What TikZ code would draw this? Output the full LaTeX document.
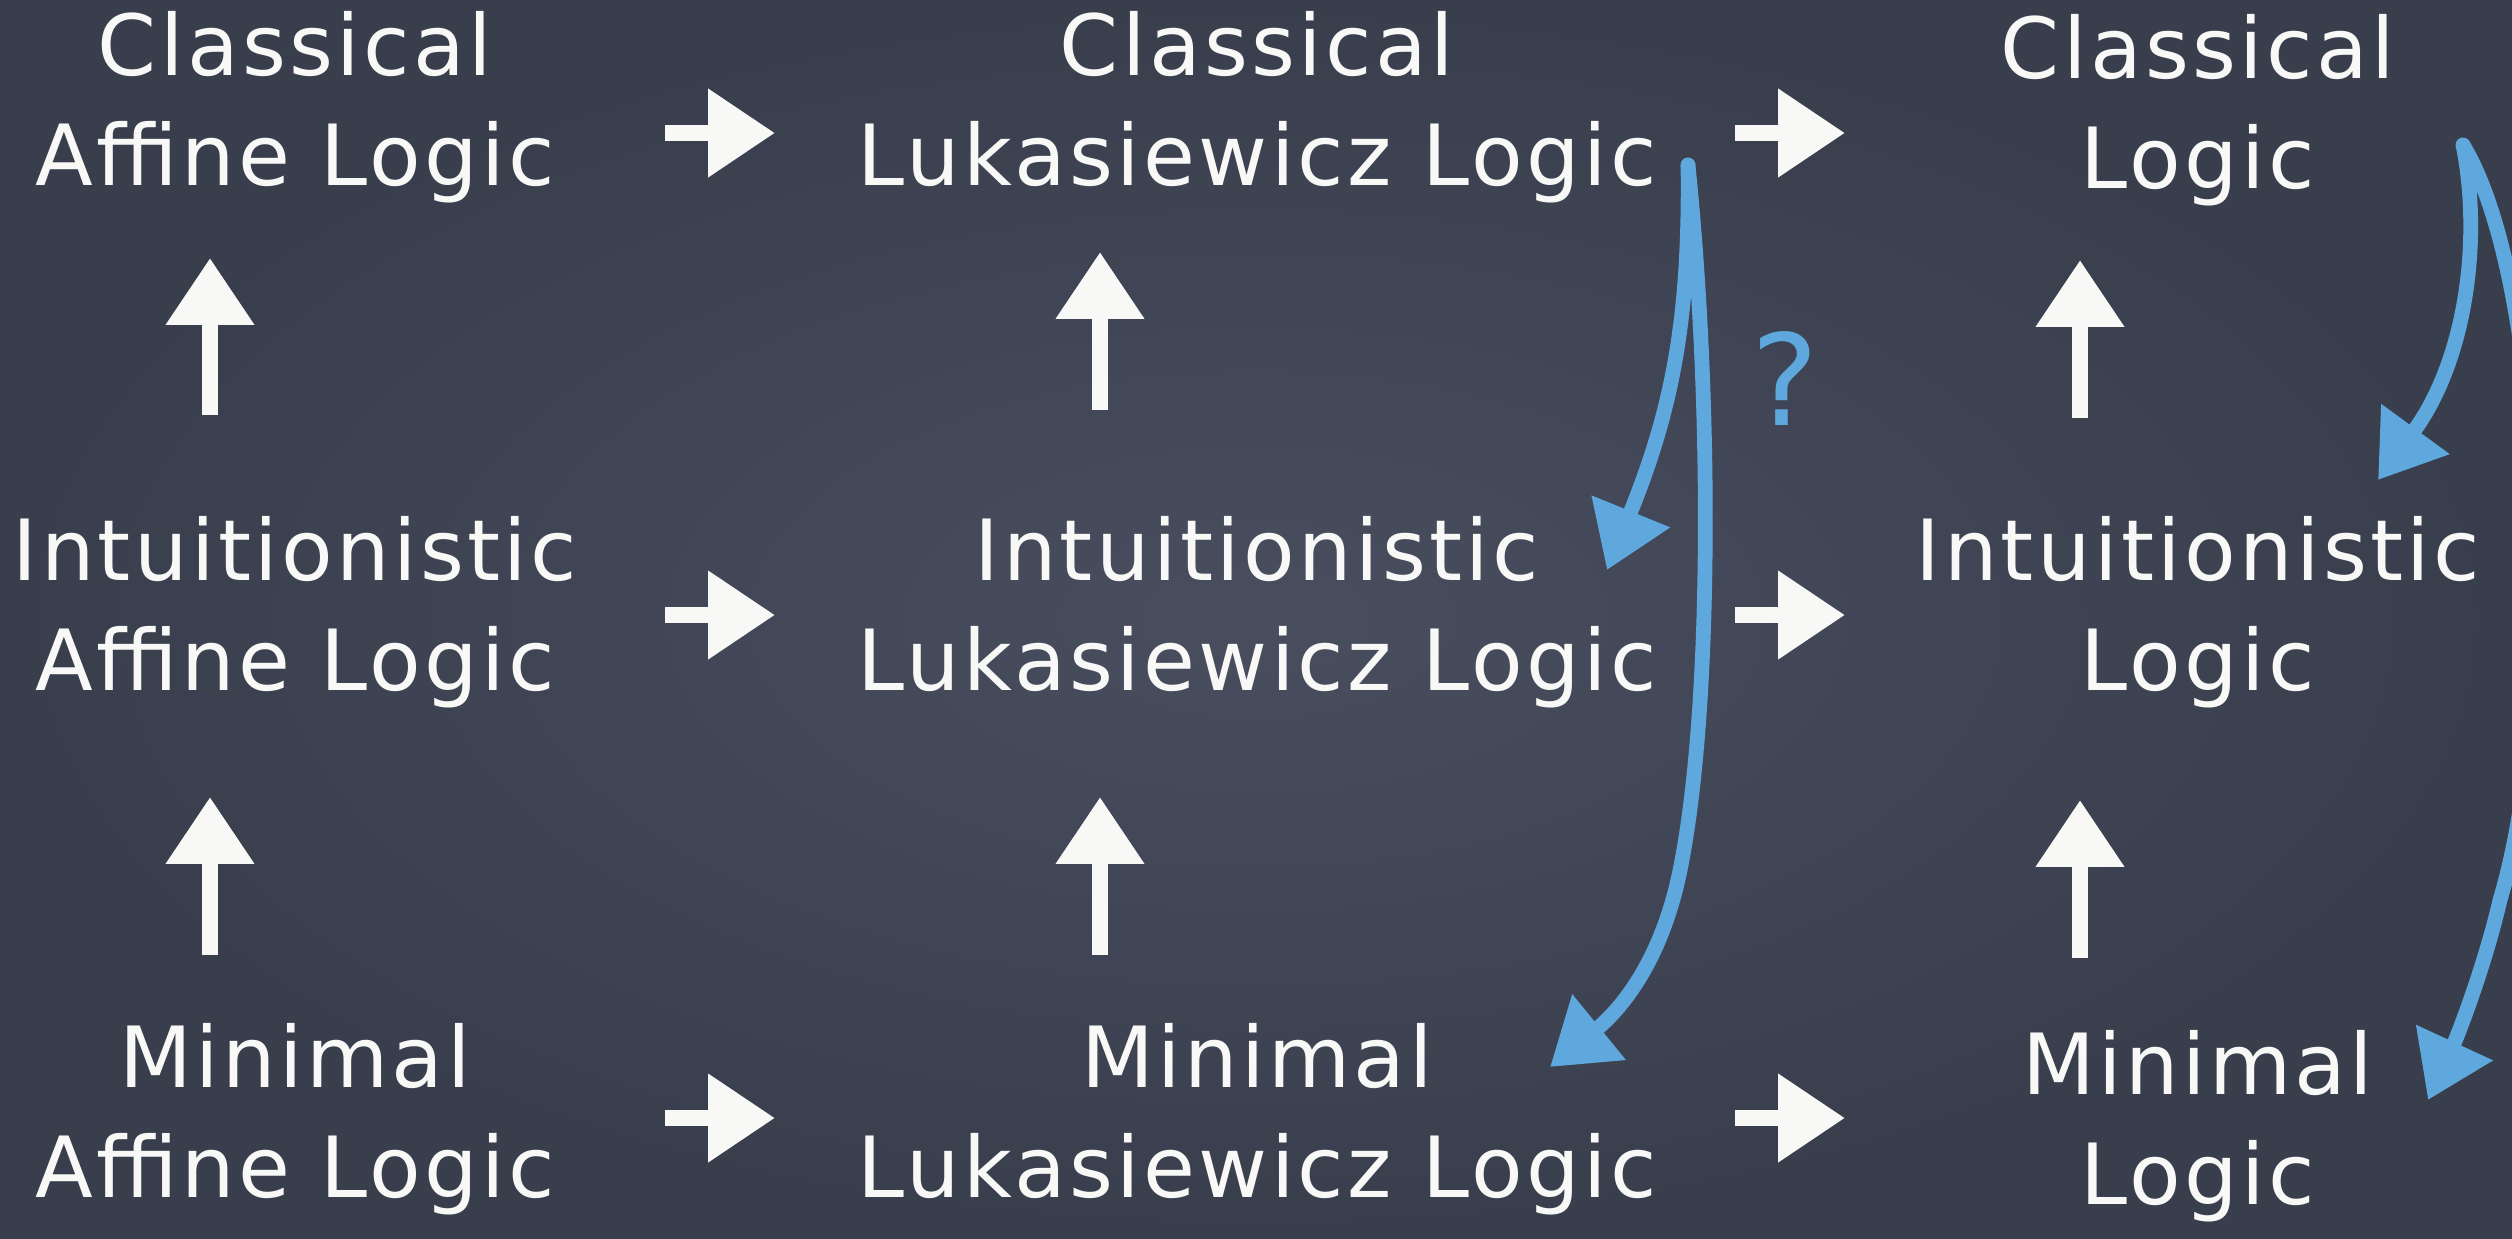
\documentclass[tikz,border=0pt]{standalone}
\usepackage{fontspec}
\setmainfont[LetterSpace=4]{DejaVu Sans}
\newfontfamily\qfont{DejaVu Sans}
\usetikzlibrary{arrows.meta}
\definecolor{board}{RGB}{56,62,76}
\definecolor{boardlight}{RGB}{72,78,94}
\definecolor{chalkblue}{RGB}{94,168,222}
\definecolor{chalkwhite}{RGB}{248,248,246}
\begin{document}
\begin{tikzpicture}[x=0.01cm,y=-0.01cm,
  logic/.style={text=chalkwhite, align=center, inner sep=0pt, anchor=north,
    font=\fontsize{24}{31.3}\selectfont},
  wa/.style={draw=chalkwhite, line width=4.5pt, -{Triangle[length=19pt,width=24pt]}},
  ba/.style={draw=chalkblue, line width=4.2pt, line cap=round, -{Triangle[length=18pt,width=23pt]}},
]
\clip (0,0) rectangle (2512,1238);
\shade[inner color=boardlight, outer color=board] (0,0) rectangle (2512,1238);

% nodes
\node[logic] (n11) at (295,11)   {Classical\\Affine Logic};
\node[logic] (n12) at (1257,11)  {Classical\\Lukasiewicz Logic};
\node[logic] (n13) at (2198,14)  {Classical\\Logic};
\node[logic] (n21) at (295,516)  {Intuitionistic\\Affine Logic};
\node[logic] (n22) at (1257,516) {Intuitionistic\\Lukasiewicz Logic};
\node[logic] (n23) at (2198,516) {Intuitionistic\\Logic};
\node[logic] (n31) at (295,1023) {Minimal\\Affine Logic};
\node[logic] (n32) at (1257,1023){Minimal\\Lukasiewicz Logic};
\node[logic] (n33) at (2198,1030){Minimal\\Logic};
\node[text=chalkblue, font=\qfont\fontsize{36}{40}\selectfont, inner sep=0pt] (q) at (1785,378) {?};

% white arrow ends
\coordinate (ra1) at (665,133);  \coordinate (rb1) at (775,133);
\coordinate (ra2) at (1735,133); \coordinate (rb2) at (1845,133);
\coordinate (ra3) at (665,615);  \coordinate (rb3) at (775,615);
\coordinate (ra4) at (1735,615); \coordinate (rb4) at (1845,615);
\coordinate (ra5) at (665,1118); \coordinate (rb5) at (775,1118);
\coordinate (ra6) at (1735,1118);\coordinate (rb6) at (1845,1118);
\coordinate (ua1) at (210,415);  \coordinate (ub1) at (210,258);
\coordinate (ua2) at (1100,410); \coordinate (ub2) at (1100,252);
\coordinate (ua3) at (2080,418); \coordinate (ub3) at (2080,260);
\coordinate (ua4) at (210,955);  \coordinate (ub4) at (210,797);
\coordinate (ua5) at (1100,955); \coordinate (ub5) at (1100,797);
\coordinate (ua6) at (2080,958); \coordinate (ub6) at (2080,800);

\foreach \i in {1,...,6} {
  \draw[wa] (ra\i) -- (rb\i);
  \draw[wa] (ua\i) -- (ub\i);
}

% blue arrows
\coordinate (bs1) at (1688,165);
\coordinate (be1) at (1607,570);
\coordinate (be2) at (1550,1067);
\coordinate (bs2) at (2463,145);
\coordinate (be3) at (2378,480);
\coordinate (be4) at (2428,1100);

\draw[ba] (bs1) .. controls (1690,320) and (1672,410) .. (be1);
\draw[ba] (bs1) .. controls (1712,400) and (1712,700) .. (1682,860)
               .. controls (1664,960) and (1620,1010) .. (be2);
\draw[ba] (bs2) .. controls (2482,240) and (2466,360) .. (be3);
\draw[ba] (bs2) .. controls (2545,280) and (2560,700) .. (2500,900)
               .. controls (2485,965) and (2458,1035) .. (be4);
\end{tikzpicture}
\end{document}
